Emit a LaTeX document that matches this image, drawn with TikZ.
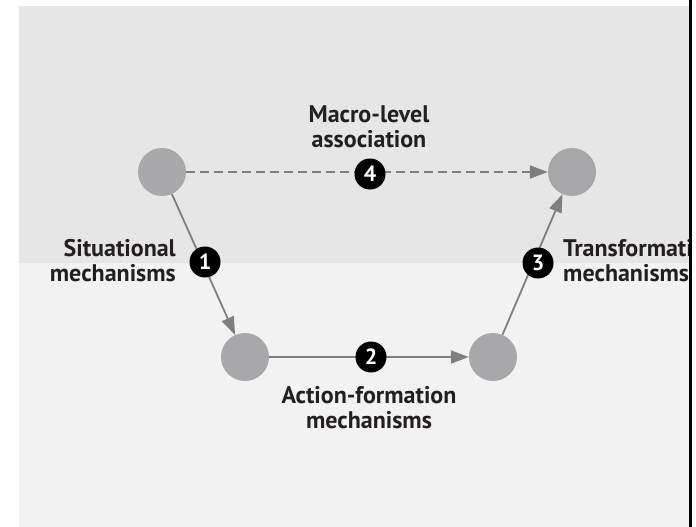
\documentclass[tikz,border=0pt]{standalone}
\usepackage{fontspec}
\setmainfont{PT Sans}
\usetikzlibrary{arrows.meta}
\definecolor{topbg}{HTML}{E6E6E6}
\definecolor{botbg}{HTML}{F2F2F2}
\definecolor{dotgray}{HTML}{A8A8AA}
\definecolor{linegray}{HTML}{7F7F80}
\definecolor{txt}{HTML}{231F20}
\tikzset{
  dot/.style={circle,fill=dotgray,minimum size=48pt,inner sep=0pt},
  badge/.style={circle,fill=black,text=white,minimum size=31pt,inner sep=0pt,font=\bfseries\fontsize{22}{22}\selectfont},
  conn/.style={draw=linegray,line width=1.8pt,-{Triangle[length=18pt,width=13pt]}},
  lbl/.style={text=txt,font=\bfseries\fontsize{24}{25}\selectfont,inner sep=0pt}
}
\begin{document}
\begin{tikzpicture}[x=1pt,y=-1pt]
\useasboundingbox (0,0) rectangle (696,527);
\fill[white] (0,0) rectangle (696,527);
\fill[topbg] (19,6) rectangle (689,263);
\fill[botbg] (19,263) rectangle (689,527);
\node[dot] (tl) at (162,172) {};
\node[dot] (tr) at (572,172) {};
\node[dot] (bl) at (245,357) {};
\node[dot] (br) at (493,357) {};
\draw[conn,dashed,dash pattern=on 9pt off 5pt] (tl) -- (tr);
\draw[conn] (tl) -- (bl);
\draw[conn] (bl) -- (br);
\draw[conn] (br) -- (tr);
\node[badge] (b4) at (370,174) {4};
\node[badge] (b1) at (205,262) {1};
\node[badge] (b2) at (371,357) {2};
\node[badge] (b3) at (538,263) {3};
\node[lbl,align=center] (macro) at (369,127) {Macro-level\\association};
\node[lbl,align=right,anchor=east] (sit) at (176,261) {Situational\\mechanisms};
\node[lbl,align=center] (act) at (369,408) {Action-formation\\mechanisms};
\begin{scope}
\clip (19,6) rectangle (689,527);
\node[lbl,align=left,anchor=west] (trans) at (563,261) {Transformational\\mechanisms};
\end{scope}
\fill[black] (689,0) rectangle (692,527);
\end{tikzpicture}
\end{document}
